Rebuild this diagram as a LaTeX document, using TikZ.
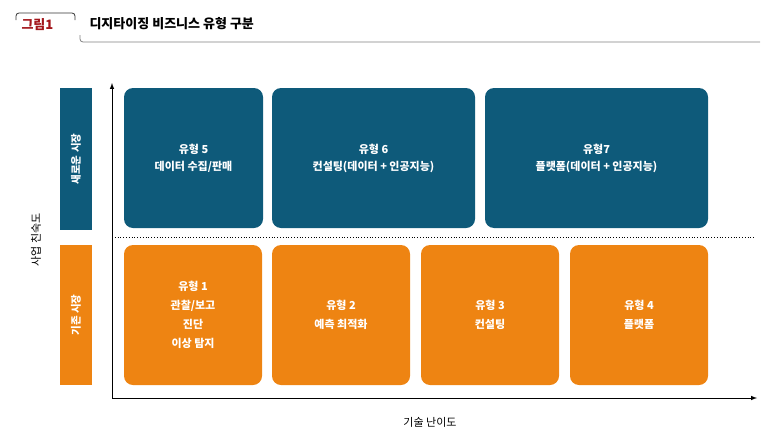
\documentclass[tikz,border=0pt]{standalone}
\usepackage{fontspec}
\setmainfont{Noto Sans CJK KR}
\definecolor{cblue}{HTML}{0E5A7A}
\definecolor{corange}{HTML}{EE8412}
\definecolor{cred}{HTML}{A3161B}
\begin{document}
\begin{tikzpicture}[x=1pt,y=-1pt,
 bbox/.style={fill=cblue,rounded corners=9pt,text=white,font=\bfseries\fontsize{11}{17}\selectfont,align=center,inner sep=0pt},
 obox/.style={fill=corange,rounded corners=9pt,text=white,font=\bfseries\fontsize{11}{19}\selectfont,align=center,inner sep=0pt},
 side/.style={rotate=90,font=\bfseries\fontsize{10.5}{12}\selectfont,text=white},
 lbl/.style={font=\fontsize{11}{12}\selectfont}]
\useasboundingbox (0,0) rectangle (773,447);
% header
\draw[black!80,line width=0.8pt,rounded corners=3pt] (16,20) -- (16,13) -- (75,13) -- (75,20);
\node[anchor=west,text=cred,font=\bfseries\fontsize{13}{14}\selectfont] (fig) at (18,25) {그림1};
\node[anchor=west,font=\bfseries\fontsize{13}{14}\selectfont] (title) at (86,24) {디지타이징 비즈니스 유형 구분};
\draw[gray,line width=0.8pt,rounded corners=3pt] (80,35) -- (80,42) -- (760,42);
% axes
\coordinate (o) at (112,398);
\coordinate (yt) at (112,83);
\coordinate (xt) at (757,398);
\draw[line width=1pt,-latex] (o) -- (yt);
\draw[line width=1pt,-latex] (o) -- (xt);
\draw[dotted,line width=0.8pt] (112,237) -- (755,237);
% side labels
\path[fill=cblue] (60,88) rectangle (92,230);
\node[side] (new) at (76,159) {새로운 시장};
\path[fill=corange] (60,245) rectangle (92,385);
\node[side] (old) at (76,315) {기존 시장};
\node[lbl,rotate=90] (ylab) at (36,240) {사업 친숙도};
\node[lbl] (xlab) at (430,422) {기술 난이도};
% blue boxes
\node[bbox,minimum width=139pt,minimum height=140pt] (t5) at (193.5,158) {유형 5\\데이터 수집/판매};
\node[bbox,minimum width=203pt,minimum height=140pt] (t6) at (373.5,158) {유형 6\\컨설팅(데이터 + 인공지능)};
\node[bbox,minimum width=223pt,minimum height=140pt] (t7) at (596.5,158) {유형7\\플랫폼(데이터 + 인공지능)};
% orange boxes
\node[obox,minimum width=138pt,minimum height=140pt] (t1) at (193,315) {유형 1\\관찰/보고\\진단\\이상 탐지};
\node[obox,minimum width=138pt,minimum height=140pt] (t2) at (341,315) {유형 2\\예측 최적화};
\node[obox,minimum width=138pt,minimum height=140pt] (t3) at (490,315) {유형 3\\컨설팅};
\node[obox,minimum width=138pt,minimum height=140pt] (t4) at (639,315) {유형 4\\플랫폼};
\end{tikzpicture}
\end{document}
